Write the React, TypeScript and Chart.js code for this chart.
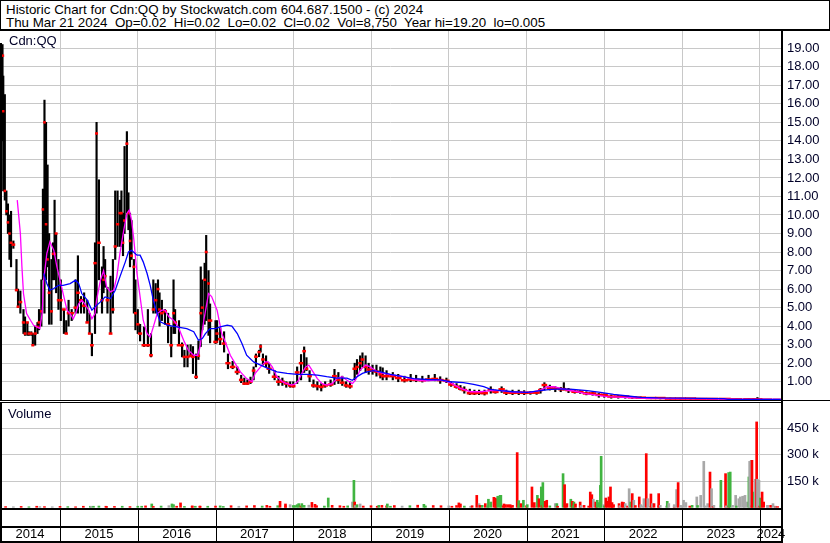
import { useEffect, useRef } from "react";
import { Chart, registerables } from "chart.js";

Chart.register(...registerables);

const FONT = '"Liberation Sans", Arial, Helvetica, sans-serif';
const GRID = "#c8c8c8";
const LABEL = "#000028";

const X_MIN = 2014.228;
const X_MAX = 2024.286;

const headerLine1 = "Historic Chart for Cdn:QQ by Stockwatch.com 604.687.1500 - (c) 2024";
const headerLine2 = "Thu Mar 21 2024  Op=0.02  Hi=0.02  Lo=0.02  Cl=0.02  Vol=8,750  Year hi=19.20  lo=0.005";
const symbolLabel = "Cdn:QQ";
const volumeLabel = "Volume";

const yearLabels = [2014, 2015, 2016, 2017, 2018, 2019, 2020, 2021, 2022, 2023, 2024];
const yearBoundaries = [2015, 2016, 2017, 2018, 2019, 2020, 2021, 2022, 2023, 2024];
const priceTicks = [1, 2, 3, 4, 5, 6, 7, 8, 9, 10, 11, 12, 13, 14, 15, 16, 17, 18, 19];
const volumeTicks = [150000, 300000, 450000];

// ---- price bars (fractional year, high, low, close) ----
const priceDates = [
  2014.26, 2014.27, 2014.29, 2014.31, 2014.33, 2014.35, 2014.37, 2014.40, 2014.44, 2014.46,
  2014.49, 2014.53, 2014.55, 2014.58, 2014.60, 2014.63, 2014.65, 2014.68, 2014.71, 2014.73,
  2014.76, 2014.78, 2014.80, 2014.82, 2014.84, 2014.86, 2014.89, 2014.91, 2014.93, 2014.95,
  2014.98, 2015.01, 2015.05, 2015.08, 2015.11, 2015.15, 2015.20, 2015.23, 2015.27, 2015.31,
  2015.35, 2015.38, 2015.41, 2015.45, 2015.47, 2015.50, 2015.54, 2015.56, 2015.58, 2015.61,
  2015.65, 2015.68, 2015.71, 2015.74, 2015.77, 2015.79, 2015.81, 2015.83, 2015.86, 2015.88,
  2015.90, 2015.92, 2015.95, 2015.97, 2016.00, 2016.03, 2016.08, 2016.13, 2016.17, 2016.20,
  2016.23, 2016.26, 2016.28, 2016.31, 2016.35, 2016.39, 2016.43, 2016.46, 2016.48, 2016.53,
  2016.57, 2016.60, 2016.64, 2016.68, 2016.71, 2016.75, 2016.78, 2016.81, 2016.83, 2016.86,
  2016.88, 2016.91, 2016.93,
  2017.00, 2017.02, 2017.06, 2017.11, 2017.16, 2017.22, 2017.28, 2017.33, 2017.37, 2017.41,
  2017.45, 2017.49, 2017.52, 2017.56, 2017.58, 2017.61, 2017.65, 2017.69, 2017.76, 2017.81,
  2017.86, 2017.91, 2017.96, 2018.00, 2018.05, 2018.10, 2018.14, 2018.17, 2018.21, 2018.26,
  2018.31, 2018.36, 2018.41, 2018.48, 2018.53, 2018.58, 2018.63, 2018.68, 2018.73, 2018.79,
  2018.82, 2018.86, 2018.89, 2018.93, 2018.97, 2019.02, 2019.07, 2019.12, 2019.15, 2019.20,
  2019.28, 2019.35, 2019.43, 2019.51, 2019.58, 2019.66, 2019.74, 2019.82, 2019.89, 2019.97,
  2020.03, 2020.10, 2020.15, 2020.20, 2020.27, 2020.33, 2020.39, 2020.46, 2020.54, 2020.60,
  2020.68, 2020.74, 2020.82, 2020.90, 2020.97, 2021.05, 2021.13, 2021.18, 2021.23, 2021.30,
  2021.37, 2021.44, 2021.48, 2021.54, 2021.62, 2021.69, 2021.77, 2021.85, 2021.93, 2022.00,
  2022.09, 2022.18, 2022.27, 2022.36, 2022.47, 2022.60, 2022.72, 2022.85, 2022.98, 2023.11,
  2023.24, 2023.39, 2023.55, 2023.70, 2023.86, 2023.97, 2024.09, 2024.22,
];
const priceHighs = [
  19.2, 17.5, 16.5, 11.3, 10.6, 10.0, 10.2, 8.6, 7.6, 6.0,
  5.9, 4.9, 4.5, 4.2, 3.7, 3.7, 3.6, 4.0, 4.2, 4.9,
  6.5, 11.4, 16.2, 15.0, 12.7, 9.0, 7.6, 8.5, 10.8, 9.0,
  7.6, 6.5, 4.9, 4.3, 5.4, 4.9, 6.5, 7.8, 5.6, 5.8,
  5.4, 4.7, 3.6, 8.5, 15.0, 11.9, 7.2, 8.3, 7.6, 6.1,
  6.7, 7.6, 11.3, 11.3, 10.8, 11.3, 10.1, 13.7, 14.5, 11.2,
  10.1, 9.7, 7.6, 6.5, 4.9, 4.1, 3.96, 4.9, 3.6, 6.5,
  6.3, 6.5, 5.8, 5.4, 4.9, 4.7, 3.96, 6.5, 4.9, 4.3,
  3.1, 2.7, 2.98, 3.0, 2.9, 2.5, 3.2, 7.2, 6.5, 7.4,
  8.9, 7.0, 5.2,
  4.3, 4.3, 3.9, 3.7, 2.5, 2.1, 1.8, 1.35, 1.2, 1.1,
  1.25, 1.8, 2.5, 2.7, 3.0, 2.5, 2.4, 1.98, 1.6, 1.3,
  1.2, 1.0, 1.0, 1.0, 1.8, 2.47, 2.88, 2.3, 1.6, 1.1,
  1.0, 0.9, 1.0, 1.1, 1.67, 1.5, 1.3, 1.0, 1.0, 2.0,
  2.2, 2.4, 2.56, 2.4, 2.0, 1.9, 1.9, 1.8, 1.75, 1.6,
  1.5, 1.4, 1.3, 1.4, 1.35, 1.3, 1.35, 1.4, 1.27, 1.2,
  1.0, 0.9, 0.8, 0.73, 0.6, 0.55, 0.55, 0.55, 0.73, 0.55,
  0.73, 0.55, 0.55, 0.55, 0.52, 0.47, 0.47, 0.64, 0.95, 0.82,
  0.73, 0.7, 0.95, 0.64, 0.55, 0.52, 0.46, 0.44, 0.37, 0.35,
  0.29, 0.27, 0.25, 0.2, 0.18, 0.15, 0.14, 0.12, 0.11, 0.1,
  0.09, 0.08, 0.08, 0.07, 0.07, 0.15, 0.05, 0.04,
];
const priceLows = [
  14.0, 11.3, 10.8, 10.0, 9.0, 7.6, 7.2, 8.2, 5.9, 5.0,
  4.7, 3.6, 3.5, 3.5, 3.5, 3.5, 2.97, 2.97, 3.6, 3.8,
  4.0, 6.5, 4.7, 6.5, 7.2, 4.1, 4.1, 6.5, 6.5, 5.8,
  4.9, 4.3, 3.6, 3.6, 4.0, 4.3, 4.7, 4.7, 4.7, 4.7,
  4.2, 3.6, 2.4, 3.6, 4.7, 6.5, 4.7, 5.8, 6.1, 4.7,
  3.6, 4.7, 7.6, 8.3, 8.3, 8.3, 7.8, 9.0, 10.1, 9.2,
  7.2, 7.6, 4.7, 3.8, 3.6, 3.2, 2.9, 2.9, 2.34, 4.7,
  4.7, 4.7, 4.0, 4.3, 4.1, 3.1, 2.34, 3.6, 3.6, 2.97,
  2.34, 1.8, 1.8, 2.34, 1.44, 1.17, 2.2, 2.9, 3.8, 4.1,
  4.3, 3.5, 3.1,
  3.06, 3.1, 3.0, 2.6, 1.7, 1.7, 1.4, 0.95, 0.85, 0.85,
  0.9, 1.1, 1.8, 2.35, 2.6, 1.9, 1.8, 1.45, 1.1, 0.8,
  0.8, 0.7, 0.7, 0.7, 0.9, 1.1, 1.5, 1.6, 1.0, 0.7,
  0.55, 0.5, 0.7, 0.75, 0.85, 0.9, 0.8, 0.7, 0.65, 1.1,
  1.4, 1.6, 1.8, 1.5, 1.4, 1.4, 1.3, 1.2, 1.1, 1.1,
  1.1, 1.0, 0.98, 1.0, 1.0, 0.98, 1.05, 1.05, 0.91, 0.95,
  0.75, 0.65, 0.55, 0.38, 0.3, 0.3, 0.3, 0.28, 0.38, 0.38,
  0.42, 0.3, 0.3, 0.3, 0.3, 0.32, 0.32, 0.38, 0.55, 0.55,
  0.46, 0.46, 0.55, 0.41, 0.38, 0.37, 0.29, 0.27, 0.16, 0.16,
  0.11, 0.11, 0.11, 0.1, 0.1, 0.08, 0.07, 0.06, 0.06, 0.05,
  0.04, 0.04, 0.03, 0.02, 0.02, 0.02, 0.02, 0.015,
];
const priceCloses = [
  18.6, 15.6, 11.3, 10.2, 9.6, 9.0, 8.5, 8.4, 5.95, 5.05,
  5.3, 4.2, 3.6, 4.2, 3.6, 3.6, 2.97, 3.6, 3.96, 4.2,
  4.8, 10.3, 15.0, 9.5, 7.6, 5.8, 4.8, 7.9, 7.9, 9.0,
  5.4, 5.4, 4.9, 3.6, 4.7, 4.7, 5.0, 5.8, 5.4, 5.1,
  4.2, 3.6, 2.97, 7.4, 14.4, 8.5, 5.4, 6.5, 6.7, 5.4,
  3.6, 4.9, 8.3, 9.5, 10.1, 10.1, 8.5, 9.7, 13.85, 10.1,
  8.6, 7.8, 7.2, 4.7, 4.1, 3.6, 2.97, 2.97, 2.43, 4.9,
  5.4, 6.0, 4.9, 4.7, 4.8, 4.1, 2.97, 4.7, 4.2, 2.97,
  2.97, 2.34, 2.34, 2.4, 2.34, 1.26, 2.4, 4.7, 5.0, 6.5,
  8.0, 6.3, 4.3,
  3.15, 3.6, 3.3, 3.06, 2.0, 1.8, 1.53, 1.1, 0.9, 0.9,
  1.0, 1.6, 2.35, 2.6, 2.9, 2.2, 2.0, 1.7, 1.27, 1.0,
  1.0, 0.9, 0.8, 0.76, 1.5, 2.0, 2.65, 1.7, 1.3, 0.8,
  0.76, 0.72, 0.8, 0.85, 1.3, 1.1, 0.95, 0.8, 0.75, 1.7,
  1.8, 2.0, 2.2, 1.8, 1.66, 1.6, 1.55, 1.4, 1.3, 1.3,
  1.3, 1.2, 1.08, 1.12, 1.1, 1.08, 1.12, 1.15, 1.09, 1.05,
  0.85, 0.73, 0.62, 0.55, 0.38, 0.38, 0.4, 0.38, 0.55, 0.45,
  0.59, 0.41, 0.4, 0.41, 0.4, 0.41, 0.41, 0.55, 0.82, 0.64,
  0.64, 0.6, 0.6, 0.55, 0.46, 0.46, 0.37, 0.37, 0.29, 0.29,
  0.2, 0.2, 0.2, 0.16, 0.14, 0.12, 0.12, 0.09, 0.09, 0.09,
  0.07, 0.07, 0.07, 0.05, 0.05, 0.05, 0.03, 0.02,
];

// ---- short moving average (magenta) ----
const maShortDates = [
  2014.45, 2014.49, 2014.51, 2014.53, 2014.57, 2014.62, 2014.66, 2014.70, 2014.74, 2014.77,
  2014.79, 2014.83, 2014.87, 2014.92, 2014.96, 2015.00, 2015.04, 2015.09, 2015.13, 2015.17,
  2015.20, 2015.24, 2015.28, 2015.32, 2015.37, 2015.41, 2015.45, 2015.47, 2015.52, 2015.56,
  2015.60, 2015.65, 2015.69, 2015.73, 2015.77, 2015.82, 2015.86, 2015.89, 2015.92, 2015.95,
  2015.99, 2016.03, 2016.07, 2016.12, 2016.16, 2016.20, 2016.25, 2016.31, 2016.35, 2016.40,
  2016.46, 2016.52, 2016.59, 2016.65, 2016.72, 2016.77, 2016.80, 2016.85, 2016.91, 2016.95,
  2017.02, 2017.08, 2017.10, 2017.15, 2017.19, 2017.25, 2017.32, 2017.40, 2017.47, 2017.51,
  2017.58, 2017.64, 2017.68, 2017.73, 2017.79, 2017.86, 2017.92, 2017.98, 2018.03, 2018.07,
  2018.11, 2018.16, 2018.20, 2018.24, 2018.31, 2018.37, 2018.43, 2018.50, 2018.56, 2018.63,
  2018.69, 2018.76, 2018.80, 2018.86, 2018.93, 2018.99, 2019.08, 2019.16, 2019.29, 2019.42,
  2019.55, 2019.68, 2019.81, 2019.89, 2020.02, 2020.15, 2020.28, 2020.41, 2020.54, 2020.67,
  2020.79, 2020.92, 2021.05, 2021.18, 2021.27, 2021.35, 2021.44, 2021.52, 2021.61, 2021.74,
  2021.87, 2022.04, 2022.30, 2022.55, 2022.89, 2023.33, 2023.75, 2024.27,
];
const maShortValues = [
  10.8, 9.0, 7.2, 5.76, 4.68, 4.32, 4.05, 3.96, 3.87, 4.68,
  6.48, 7.92, 8.55, 8.1, 7.2, 6.48, 5.76, 4.86, 4.68, 4.4,
  4.68, 5.2, 5.4, 5.2, 4.86, 4.4, 4.68, 5.4, 6.48, 7.0,
  6.1, 5.85, 5.94, 6.66, 7.92, 9.18, 10.08, 10.26, 9.72, 8.64,
  6.84, 5.58, 4.32, 3.6, 3.42, 3.96, 4.68, 4.86, 4.86, 4.5,
  4.32, 3.96, 3.24, 2.7, 2.43, 2.43, 2.88, 4.32, 5.76, 5.6,
  4.86, 3.6, 3.42, 2.88, 2.43, 2.0, 1.53, 1.17, 1.0, 1.45,
  1.8, 2.07, 2.07, 1.8, 1.27, 1.0, 0.9, 0.82, 0.9, 1.08,
  1.45, 1.8, 1.9, 1.63, 1.17, 0.9, 0.82, 0.9, 1.17, 1.27,
  1.08, 0.9, 1.08, 1.63, 1.9, 1.8, 1.53, 1.45, 1.36, 1.27,
  1.12, 1.05, 1.08, 1.1, 0.95, 0.64, 0.46, 0.46, 0.52, 0.52,
  0.46, 0.43, 0.43, 0.55, 0.73, 0.73, 0.64, 0.55, 0.5, 0.37,
  0.29, 0.2, 0.14, 0.1, 0.09, 0.07, 0.05, 0.05,
];

// ---- long moving average (blue) ----
const maLongDates = [
  2014.79, 2014.83, 2014.87, 2014.92, 2014.98, 2015.04, 2015.13, 2015.20, 2015.24, 2015.28,
  2015.35, 2015.41, 2015.45, 2015.52, 2015.58, 2015.65, 2015.71, 2015.77, 2015.84, 2015.88,
  2015.92, 2015.99, 2016.03, 2016.07, 2016.12, 2016.16, 2016.20, 2016.25, 2016.29, 2016.38,
  2016.50, 2016.63, 2016.72, 2016.78, 2016.83, 2016.87, 2016.93, 2017.00, 2017.06, 2017.15,
  2017.21, 2017.28, 2017.34, 2017.40, 2017.49, 2017.58, 2017.66, 2017.79, 2017.92, 2018.05,
  2018.18, 2018.31, 2018.43, 2018.56, 2018.69, 2018.76, 2018.82, 2018.89, 2018.95, 2019.03,
  2019.12, 2019.25, 2019.38, 2019.55, 2019.72, 2019.89, 2020.02, 2020.19, 2020.32, 2020.45,
  2020.54, 2020.67, 2020.83, 2021.01, 2021.18, 2021.31, 2021.48, 2021.60, 2021.78, 2021.95,
  2022.12, 2022.30, 2022.47, 2022.69, 2022.98, 2023.54, 2023.59, 2024.27,
];
const maLongValues = [
  6.84, 6.3, 5.94, 6.03, 6.2, 6.2, 6.3, 6.48, 6.3, 5.76,
  5.4, 4.86, 5.04, 5.31, 5.58, 5.49, 5.94, 6.66, 7.47, 8.0,
  8.1, 7.83, 7.83, 7.47, 6.84, 6.2, 5.4, 4.68, 4.23, 4.05,
  3.96, 3.87, 3.7, 3.24, 3.33, 3.6, 3.87, 3.87, 3.96, 4.05,
  4.0, 3.6, 3.06, 2.43, 2.07, 1.9, 1.75, 1.53, 1.45, 1.4,
  1.4, 1.36, 1.27, 1.2, 1.2, 1.08, 1.27, 1.45, 1.53, 1.6,
  1.53, 1.4, 1.3, 1.17, 1.12, 1.1, 1.0, 0.95, 0.86, 0.73,
  0.59, 0.52, 0.46, 0.43, 0.52, 0.59, 0.61, 0.59, 0.52, 0.43,
  0.32, 0.23, 0.16, 0.125, 0.11, 0.09, 0.05, 0.05,
];

// ---- volume: notable sessions (u = up, d = down, n = unchanged) ----
const volDates = [
  2014.74, 2015.39, 2015.43, 2015.59, 2016.05, 2016.18, 2016.44, 2016.46, 2016.55, 2016.70,
  2016.74, 2016.80, 2017.06, 2017.66, 2017.83, 2017.90, 2017.96, 2018.02, 2018.05, 2018.07,
  2018.11, 2018.14, 2018.24, 2018.28, 2018.45, 2018.65, 2018.76, 2018.78, 2018.79, 2018.82,
  2018.86, 2019.08, 2019.14, 2019.21, 2019.25, 2019.68, 2020.04, 2020.13, 2020.15, 2020.28,
  2020.36, 2020.39, 2020.43, 2020.47, 2020.51, 2020.54, 2020.58, 2020.60, 2020.61, 2020.63,
  2020.66, 2020.67, 2020.71, 2020.73, 2020.76, 2020.79, 2020.82, 2020.88, 2020.90, 2020.93,
  2020.96, 2021.01, 2021.07, 2021.10, 2021.14, 2021.16, 2021.19, 2021.21, 2021.24, 2021.26,
  2021.37, 2021.39, 2021.47, 2021.49, 2021.52, 2021.57, 2021.59, 2021.61, 2021.63, 2021.69,
  2021.74, 2021.82, 2021.84, 2021.86, 2021.89, 2021.91, 2021.93, 2021.95, 2021.96, 2021.99,
  2022.02, 2022.04, 2022.06, 2022.08, 2022.10, 2022.12, 2022.19, 2022.23, 2022.25, 2022.27,
  2022.32, 2022.34, 2022.36, 2022.38, 2022.45, 2022.47, 2022.51, 2022.54, 2022.56, 2022.60,
  2022.62, 2022.64, 2022.70, 2022.72, 2022.81, 2022.83, 2022.90, 2022.93, 2022.95, 2022.98,
  2023.02, 2023.05, 2023.13, 2023.19, 2023.24, 2023.28, 2023.33, 2023.36, 2023.38, 2023.41,
  2023.50, 2023.56, 2023.57, 2023.60, 2023.62, 2023.65, 2023.69, 2023.73, 2023.75, 2023.78,
  2023.81, 2023.84, 2023.86, 2023.87, 2023.89, 2023.90, 2023.93, 2023.94, 2023.96, 2023.97,
  2023.99, 2024.01, 2024.03, 2024.05, 2024.10, 2024.14, 2024.17, 2024.20, 2024.23,
];
const volValuesK = [
  4, 6, 6, 6, 6, 19, 19, 15, 25, 6,
  6, 6, 8, 11, 34, 19, 15, 10, 15, 21,
  21, 11, 28, 17, 53, 6, 30, 154, 30, 15,
  19, 6, 11, 19, 6, 17, 6, 25, 19, 6,
  68, 21, 11, 21, 46, 30, 57, 53, 46, 63,
  68, 68, 19, 15, 15, 15, 11, 312, 38, 21,
  40, 15, 116, 27, 68, 49, 116, 141, 34, 40,
  21, 21, 192, 129, 21, 46, 34, 30, 19, 30,
  11, 87, 72, 46, 30, 40, 27, 125, 291, 15,
  53, 34, 59, 116, 27, 15, 21, 30, 27, 21,
  106, 30, 78, 40, 59, 15, 49, 306, 49, 76,
  21, 21, 78, 11, 34, 21, 15, 101, 141, 11,
  40, 27, 11, 59, 68, 262, 21, 201, 106, 11,
  154, 192, 8, 198, 201, 11, 68, 49, 59, 63,
  68, 30, 173, 262, 268, 268, 87, 160, 487, 160,
  154, 53, 87, 30, 11, 11, 21, 4, 4,
];
const volDirs =
  "nuuduuuudd" + "ududddnuuu" + "uuddudnudu" + "ndduuudddn" + "dnuduudddu" +
  "uuddddddud" + "uudduduudd" + "nuuddududd" + "dddnduuuun" + "dddddddddn" +
  "nudndnndnd" + "nddnunnndn" + "nnunnnndnn" + "udnuunnnnn" + "nnunndundn" + "nuddndnnd";

// ---- volume: small everyday sessions along the baseline ----
const volBaseDates = [
  2014.3, 2014.4, 2014.5, 2014.6, 2014.7, 2014.8, 2014.9,
  2015.0, 2015.1, 2015.2, 2015.3, 2015.4, 2015.5, 2015.6, 2015.7, 2015.8, 2015.9,
  2016.0, 2016.1, 2016.2, 2016.3, 2016.4, 2016.5, 2016.6, 2016.7, 2016.8, 2016.9,
  2017.0, 2017.1, 2017.2, 2017.3, 2017.4, 2017.5, 2017.6, 2017.7, 2017.8, 2017.9,
  2018.0, 2018.1, 2018.2, 2018.3, 2018.4, 2018.5, 2018.6, 2018.7, 2018.8, 2018.9,
  2019.0, 2019.1, 2019.2, 2019.3, 2019.4, 2019.5, 2019.6, 2019.7, 2019.8, 2019.9,
  2020.0, 2020.1, 2020.2, 2020.3, 2020.4, 2020.5, 2020.6, 2020.7, 2020.8, 2020.9,
  2021.0, 2021.1, 2021.2, 2021.3, 2021.4, 2021.5, 2021.6, 2021.7, 2021.8, 2021.9,
  2022.0, 2022.1, 2022.2, 2022.3, 2022.4, 2022.5, 2022.6, 2022.7, 2022.8, 2022.9,
  2023.0, 2023.1, 2023.2, 2023.3, 2023.4, 2023.5, 2023.6, 2023.7, 2023.8, 2023.9,
  2024.0, 2024.1, 2024.2,
];
const volBaseValuesK = [
  4, 3, 5, 3, 6, 4, 3,
  5, 4, 3, 6, 5, 7, 4, 5, 6, 4,
  6, 8, 5, 7, 9, 6, 5, 8, 7, 6,
  7, 5, 9, 6, 8, 10, 7, 6, 9, 8,
  10, 8, 12, 9, 7, 11, 9, 8, 10, 7,
  9, 11, 8, 10, 7, 9, 12, 8, 10, 9,
  8, 10, 7, 9, 11, 8, 10, 9, 7, 8,
  9, 7, 10, 8, 6, 9, 8, 10, 7, 9,
  8, 6, 9, 7, 10, 8, 6, 9, 7, 8,
  9, 7, 10, 8, 6, 9, 8, 7, 10, 8,
  7, 9, 6,
];
const volBaseDirs =
  "dnduddn" + "duddnuddud" + "uddunduddu" + "dudnddudud" + "udnduddund" +
  "duddnududd" + "nduddunddu" + "dnduddundd" + "udnddnudnd" + "ndundndund" + "dnd";

const DIR_COLORS: Record<string, string> = { u: "#40b440", d: "#ff0000", n: "#a8a8a8" };

function makeGridX(): any {
  return {
    type: "linear",
    min: X_MIN,
    max: X_MAX,
    offset: false,
    position: "bottom",
    grid: { color: GRID, lineWidth: 1, drawTicks: false, offset: false },
    border: { display: false },
    ticks: { display: false },
    afterBuildTicks: (s: any) => {
      s.ticks = yearBoundaries.map((v) => ({ value: v }));
    },
    afterFit: (s: any) => {
      s.height = 0;
      s.paddingLeft = 0;
      s.paddingRight = 0;
    },
  };
}

function fitRightAxis(s: any) {
  s.width = 48;
  s.paddingTop = 0;
  s.paddingBottom = 0;
}

export default function App() {
  const priceRef = useRef<HTMLCanvasElement>(null);
  const volRef = useRef<HTMLCanvasElement>(null);

  useEffect(() => {
    const pricePlugin = {
      id: "priceFrame",
      afterDraw(chart: any) {
        const ctx = chart.ctx;
        const a = chart.chartArea;
        ctx.save();
        ctx.fillStyle = "#000";
        ctx.fillRect(0, a.bottom - 1, chart.width, 1);
        ctx.fillRect(0, 12, 2, a.bottom - 12);
        ctx.fillStyle = LABEL;
        ctx.font = `13px ${FONT}`;
        ctx.textBaseline = "alphabetic";
        ctx.textAlign = "left";
        ctx.fillText(symbolLabel, 9, 14);
        ctx.restore();
      },
    };

    const closeRadius = (c: any) => {
      const i = c.dataIndex;
      if (i === undefined) return 2;
      const xs = c.chart.scales.x;
      const p = xs.getPixelForValue(priceDates[i]);
      const n = i < priceDates.length - 1 ? xs.getPixelForValue(priceDates[i + 1]) : p + 4;
      const pr = i > 0 ? xs.getPixelForValue(priceDates[i - 1]) : p - 4;
      return Math.max(1.2, Math.min(6, (n - pr) / 4 + 0.5));
    };

    const priceChart = new Chart(priceRef.current as HTMLCanvasElement, {
      type: "line",
      data: {
        datasets: [
          {
            type: "line",
            label: "long",
            data: maLongDates.map((t, i) => ({ x: t, y: maLongValues[i] })),
            borderColor: "#0000ff",
            borderWidth: 1.3,
            pointRadius: 0,
            tension: 0,
          },
          {
            type: "line",
            label: "short",
            data: maShortDates.map((t, i) => ({ x: t, y: maShortValues[i] })),
            borderColor: "#ff00ff",
            borderWidth: 1.3,
            pointRadius: 0,
            tension: 0,
          },
          {
            type: "line",
            label: "close",
            data: priceDates.map((t, i) => ({ x: t, y: priceCloses[i] })),
            showLine: false,
            borderColor: "#ff0000",
            backgroundColor: "#ff0000",
            pointStyle: "line",
            pointBorderWidth: 2.5,
            pointRadius: closeRadius,
          },
          {
            type: "bar",
            label: "range",
            data: priceDates.map((t, i) => ({ x: t, y: [priceLows[i], priceHighs[i]] })),
            backgroundColor: "#000",
            borderWidth: 0,
            barThickness: 1.5,
            grouped: false,
          } as any,
        ],
      },
      options: {
        animation: false,
        responsive: false,
        events: [],
        layout: { padding: 0 },
        plugins: { legend: { display: false }, tooltip: { enabled: false } },
        scales: {
          x: makeGridX(),
          y: {
            type: "linear",
            position: "right",
            min: -0.04,
            max: 19.93,
            grid: { color: GRID, lineWidth: 1, drawTicks: false },
            border: { display: true, color: "#000", width: 2 },
            afterBuildTicks: (s: any) => {
              s.ticks = priceTicks.map((v) => ({ value: v }));
            },
            afterFit: fitRightAxis,
            ticks: {
              padding: 5,
              color: LABEL,
              font: { family: FONT, size: 13 },
              callback: (v: any) => Number(v).toFixed(2),
            },
          },
        },
      } as any,
      plugins: [pricePlugin],
    });

    const allVol = volBaseDates
      .map((t, i) => ({ x: t, y: volBaseValuesK[i] * 1000, d: volBaseDirs[i] }))
      .concat(volDates.map((t, i) => ({ x: t, y: volValuesK[i] * 1000, d: volDirs[i] })))
      .sort((a, b) => a.x - b.x);

    const volPlugin = {
      id: "volFrame",
      afterDraw(chart: any) {
        const ctx = chart.ctx;
        const a = chart.chartArea;
        const xs = chart.scales.x;
        const H = chart.height;
        ctx.save();
        ctx.fillStyle = "#000";
        ctx.fillRect(0, a.top, a.right, 1);
        ctx.fillRect(0, a.top, 2, H - a.top);
        ctx.fillRect(0, a.bottom, a.right, 2);
        ctx.fillRect(0, a.bottom + 18, a.right, 2);
        ctx.fillRect(0, H - 2, a.right, 2);
        yearBoundaries.forEach((yb) => {
          const px = Math.round(xs.getPixelForValue(yb));
          ctx.fillRect(px, a.bottom, 1, H - a.bottom);
        });
        ctx.fillRect(a.right - 1, 0, 2, H);
        ctx.fillStyle = LABEL;
        ctx.font = `13px ${FONT}`;
        ctx.textBaseline = "alphabetic";
        ctx.textAlign = "left";
        ctx.fillText(volumeLabel, 8, 17);
        ctx.restore();
      },
    };

    const labelPositions = yearLabels.map((y) => (Math.max(y, X_MIN) + Math.min(y + 1, X_MAX)) / 2);

    const volChart = new Chart(volRef.current as HTMLCanvasElement, {
      type: "line",
      data: {
        datasets: [
          {
            type: "bar",
            label: "volume",
            data: allVol.map((p) => ({ x: p.x, y: p.y })),
            backgroundColor: allVol.map((p) => DIR_COLORS[p.d]),
            borderWidth: 0,
            barThickness: 2,
            grouped: false,
          } as any,
        ],
      },
      options: {
        animation: false,
        responsive: false,
        events: [],
        layout: { padding: { top: 1, left: 0, right: 0, bottom: 0 } },
        plugins: { legend: { display: false }, tooltip: { enabled: false } },
        scales: {
          x: makeGridX(),
          xl: {
            type: "linear",
            min: X_MIN,
            max: X_MAX,
            offset: false,
            position: "bottom",
            grid: { display: false, drawTicks: false },
            border: { display: false },
            afterBuildTicks: (s: any) => {
              s.ticks = labelPositions.map((v) => ({ value: v }));
            },
            afterFit: (s: any) => {
              s.height = 35;
              s.paddingLeft = 0;
              s.paddingRight = 0;
            },
            ticks: {
              autoSkip: false,
              maxRotation: 0,
              padding: 19,
              color: "#000",
              font: { family: FONT, size: 13 },
              callback: (v: any) => String(Math.floor(Number(v))),
            },
          },
          y: {
            type: "linear",
            position: "right",
            min: -4000,
            max: 600600,
            grid: { color: GRID, lineWidth: 1, drawTicks: false },
            border: { display: true, color: "#000", width: 2 },
            afterBuildTicks: (s: any) => {
              s.ticks = volumeTicks.map((v) => ({ value: v }));
            },
            afterFit: fitRightAxis,
            ticks: {
              padding: 5,
              color: LABEL,
              font: { family: FONT, size: 13 },
              callback: (v: any) => `${Math.round(Number(v) / 1000)} k`,
            },
          },
        },
      } as any,
      plugins: [volPlugin],
    });

    return () => {
      priceChart.destroy();
      volChart.destroy();
    };
  }, []);

  return (
    <div
      style={{
        position: "absolute",
        left: 0,
        top: 0,
        width: 830,
        height: 543,
        background: "#fff",
        overflow: "hidden",
      }}
    >
      <div
        style={{
          position: "absolute",
          left: 0,
          top: 0,
          width: 830,
          height: 31,
          boxSizing: "border-box",
          borderTop: "1px solid #000",
          borderLeft: "1px solid #000",
          borderRight: "1px solid #000",
          borderBottom: "2px solid #000",
          padding: "3px 0 0 5px",
          fontFamily: FONT,
          fontSize: "13.33px",
          lineHeight: "12.5px",
          whiteSpace: "pre",
          color: "#000",
        }}
      >
        <div>{headerLine1}</div>
        <div>{headerLine2}</div>
      </div>
      <canvas
        ref={priceRef}
        width={830}
        height={370}
        style={{ position: "absolute", left: 0, top: 31, width: 830, height: 370 }}
      />
      <canvas
        ref={volRef}
        width={830}
        height={142}
        style={{ position: "absolute", left: 0, top: 401, width: 830, height: 142 }}
      />
    </div>
  );
}
